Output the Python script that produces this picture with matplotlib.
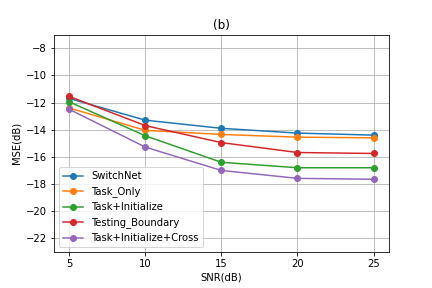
import matplotlib
matplotlib.use("Agg")
import matplotlib.pyplot as plt

snr = [5, 10, 15, 20, 25]

switchnet = [-11.7, -13.3, -13.9, -14.25, -14.4]
task_only = [-12.4, -14.05, -14.35, -14.55, -14.6]
task_init = [-11.95, -14.45, -16.4, -16.8, -16.8]
testing_boundary = [-11.55, -13.7, -14.95, -15.68, -15.75]
task_init_cross = [-12.5, -15.28, -17.0, -17.58, -17.65]

series = [
    ("SwitchNet", switchnet),
    ("Task_Only", task_only),
    ("Task+Initialize", task_init),
    ("Testing_Boundary", testing_boundary),
    ("Task+Initialize+Cross", task_init_cross),
]

fig, ax = plt.subplots(figsize=(6, 4), dpi=72)
fig.subplots_adjust(bottom=0.125, top=0.88)

for name, vals in series:
    ax.plot(snr, vals, marker='o', label=name)

ax.set_xlim(4, 26)
ax.set_ylim(-23, -7)
ax.set_xticks(snr)
ax.set_yticks(range(-22, -7, 2))
ax.set_xlabel("SNR(dB)")
ax.set_ylabel("MSE(dB)")
ax.set_title("(b)")
ax.grid(True)
ax.legend(loc='lower left')

fig.savefig("out.png", dpi=72)
